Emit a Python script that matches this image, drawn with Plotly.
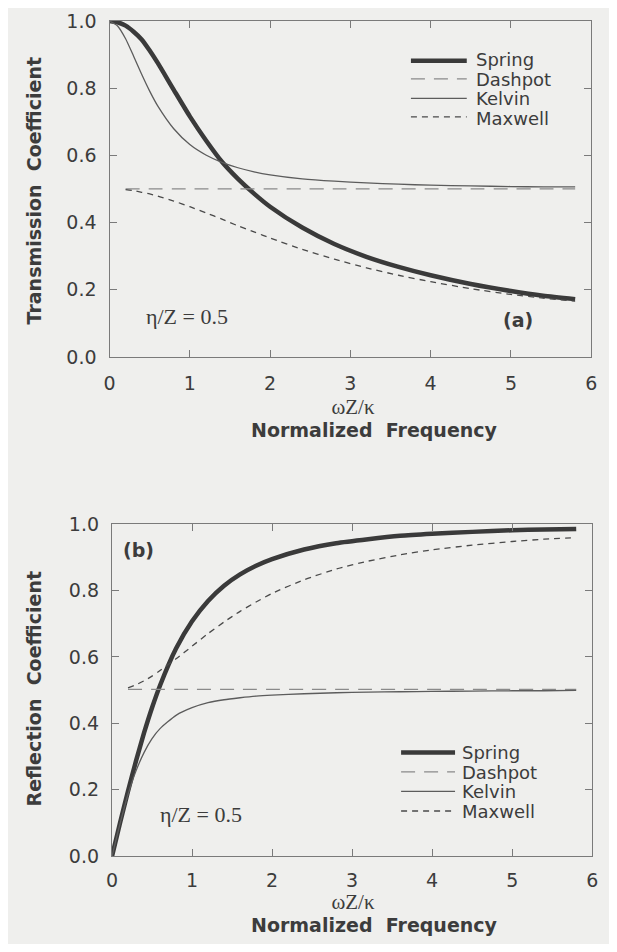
import plotly.graph_objects as go

# ---------------- data ----------------
freq = [0, 0.1, 0.2, 0.3, 0.4, 0.5, 0.6, 0.8, 1.0, 1.2, 1.4, 1.6, 1.8, 2.0,
        2.4, 2.8, 3.2, 3.6, 4.0, 4.5, 5.0, 5.4, 5.8]
freq_visc = [0.2, 0.3, 0.4, 0.5, 0.6, 0.8, 1.0, 1.2, 1.4, 1.6, 1.8, 2.0,
             2.4, 2.8, 3.2, 3.6, 4.0, 4.5, 5.0, 5.4, 5.8]

trans_spring = [1.0, 0.996, 0.986, 0.968, 0.945, 0.912, 0.875, 0.795, 0.716, 0.645, 0.581,
                0.530, 0.486, 0.447, 0.385, 0.336, 0.298, 0.268, 0.243, 0.217, 0.196, 0.182, 0.172]
trans_kelvin = [1.0, 0.985, 0.947, 0.895, 0.841, 0.791, 0.747, 0.679, 0.632, 0.601, 0.579,
                0.563, 0.551, 0.542, 0.530, 0.523, 0.518, 0.514, 0.511, 0.509, 0.507, 0.506, 0.506]
trans_dashpot = [0.5] * len(freq_visc)
trans_maxwell = [0.498, 0.495, 0.490, 0.485, 0.479, 0.464, 0.447, 0.429, 0.410, 0.390,
                 0.372, 0.354, 0.320, 0.291, 0.265, 0.243, 0.224, 0.203, 0.186, 0.175, 0.166]

refl_spring = [0.0, 0.100, 0.196, 0.287, 0.371, 0.447, 0.514, 0.625, 0.707, 0.768, 0.814,
               0.848, 0.874, 0.894, 0.923, 0.942, 0.954, 0.964, 0.970, 0.976, 0.981, 0.983, 0.985]
refl_kelvin = [0.0, 0.098, 0.186, 0.257, 0.312, 0.354, 0.384, 0.424, 0.447, 0.462, 0.471,
               0.477, 0.482, 0.485, 0.489, 0.492, 0.494, 0.495, 0.496, 0.497, 0.498, 0.498, 0.499]
refl_dashpot = [0.502] * len(freq_visc)
refl_maxwell = [0.507, 0.516, 0.528, 0.542, 0.559, 0.594, 0.632, 0.670, 0.705, 0.737,
                0.765, 0.791, 0.832, 0.864, 0.888, 0.907, 0.922, 0.936, 0.947, 0.954, 0.959]

series_names = ["Spring", "Dashpot", "Kelvin", "Maxwell"]
x_ticks = [0, 1, 2, 3, 4, 5, 6]
y_ticks = [0.0, 0.2, 0.4, 0.6, 0.8, 1.0]

# ---------------- styling ----------------
BG = "#efefed"
AX = "#7a7a7a"
TXT = "#3c3c3c"
SANS = "DejaVu Sans"
SERIF = "Liberation Serif"

styles = {
    "Spring": dict(color="#3a3a3a", width=4.5, dash="solid"),
    "Dashpot": dict(color="#8a8a8a", width=1.3, dash="14px,9px"),
    "Kelvin": dict(color="#5c5c5c", width=1.3, dash="solid"),
    "Maxwell": dict(color="#4a4a4a", width=1.3, dash="6px,5px"),
}

fig = go.Figure()

panels = [
    ("x", "y", [trans_spring, trans_dashpot, trans_kelvin, trans_maxwell]),
    ("x2", "y2", [refl_spring, refl_dashpot, refl_kelvin, refl_maxwell]),
]
for xa, ya, ys in panels:
    for name, yv in zip(series_names, ys):
        xs = freq if len(yv) == len(freq) else freq_visc
        fig.add_trace(go.Scatter(
            x=xs, y=yv, mode="lines", name=name, showlegend=False,
            line=dict(shape="spline", smoothing=0.6, **styles[name]),
            xaxis=xa, yaxis=ya))

def xaxis(domain, anchor, standoff):
    return dict(domain=domain, anchor=anchor, range=[0, 6], tickvals=x_ticks,
                ticks="inside", ticklen=7, tickwidth=1, tickcolor=AX,
                showline=True, linecolor=AX, linewidth=1.3, mirror="ticks",
                showgrid=False, zeroline=False, ticklabelstandoff=standoff,
                tickfont=dict(family=SANS, size=19, color=TXT))

def yaxis(domain, anchor):
    return dict(domain=domain, anchor=anchor, range=[0, 1.0], tickvals=y_ticks,
                tickformat=".1f",
                ticks="inside", ticklen=7, tickwidth=1, tickcolor=AX,
                showline=True, linecolor=AX, linewidth=1.3, mirror="ticks",
                showgrid=False, zeroline=False, ticklabelstandoff=8,
                tickfont=dict(family=SANS, size=19, color=TXT))

# the page body has an 8px margin on every side: size the figure so it fits the window
fig.update_layout(
    width=601, height=936,
    margin=dict(l=0, r=0, t=0, b=0),
    paper_bgcolor=BG, plot_bgcolor=BG,
    showlegend=False,
    xaxis=xaxis([0.1622, 0.9800], "y", 9),
    yaxis=yaxis([0.6303, 0.9979], "x"),
    xaxis2=xaxis([0.1664, 0.9817], "y2", 7),
    yaxis2=yaxis([0.0839, 0.4476], "x2"),
)

ann = []
# y-axis titles
for yc, title in [(0.812, "Transmission\u00a0 Coefficient"), (0.2671, "Reflection\u00a0 Coefficient")]:
    ann.append(dict(text=f"<b>{title}</b>", xref="paper", yref="paper", x=0.0333, y=yc,
                    textangle=-90, showarrow=False, xanchor="center", yanchor="middle",
                    font=dict(family=SANS, size=19, color=TXT)))
# two-line x-axis titles (serif symbol line + bold sans line), tight line spacing
xtitle = ("<span style=\"font-family:'Liberation Serif';font-size:21px\">\u03c9Z/\u03ba"
          + "\u00a0" * 8 + "</span><br>"
          "<span style=\"font-size:19px\"><b>Normalized\u00a0 Frequency</b></span>")
for yc in [0.5634, 0.0214]:
    ann.append(dict(text=xtitle, xref="paper", yref="paper", x=0.6123, y=yc,
                    showarrow=False, xanchor="center", yanchor="middle", align="center",
                    font=dict(family=SANS, size=17.6, color=TXT)))
# parameter labels
ann.append(dict(text="\u03b7/Z = 0.5", xref="x", yref="y", x=0.97, y=0.119, showarrow=False,
                font=dict(family=SERIF, size=22, color=TXT)))
ann.append(dict(text="\u03b7/Z = 0.5", xref="x2", yref="y2", x=1.11, y=0.125, showarrow=False,
                font=dict(family=SERIF, size=22, color=TXT)))
ann.append(dict(text="<b>(a)</b>", xref="x", yref="y", x=5.09, y=0.111, showarrow=False,
                font=dict(family=SANS, size=19, color=TXT)))
ann.append(dict(text="<b>(b)</b>", xref="x2", yref="y2", x=0.33, y=0.92, showarrow=False,
                font=dict(family=SANS, size=19, color=TXT)))

# legends (sample lines + one multi-line label block per panel)
shapes = []
legend_specs = [
    (0.6739, 0.7687, 0.7804, [0.9544, 0.9345, 0.9131, 0.8929]),
    (0.6572, 0.7488, 0.7571, [0.1976, 0.1763, 0.1549, 0.1335]),
]
legend_text = "<br>".join(f"<span style=\"font-size:18px\">{n}</span>" for n in series_names)
for x0, x1, xt, rows in legend_specs:
    for name, yy in zip(series_names, rows):
        st = styles[name]
        shapes.append(dict(type="line", xref="paper", yref="paper", x0=x0, x1=x1, y0=yy, y1=yy,
                           line=dict(color=st["color"], width=st["width"], dash=st["dash"])))
    ann.append(dict(text=legend_text, xref="paper", yref="paper", x=xt, y=sum(rows) / 4,
                    showarrow=False, xanchor="left", yanchor="middle", align="left",
                    font=dict(family=SANS, size=15, color=TXT)))

fig.update_layout(annotations=ann, shapes=shapes)
fig.write_html("out.html")
